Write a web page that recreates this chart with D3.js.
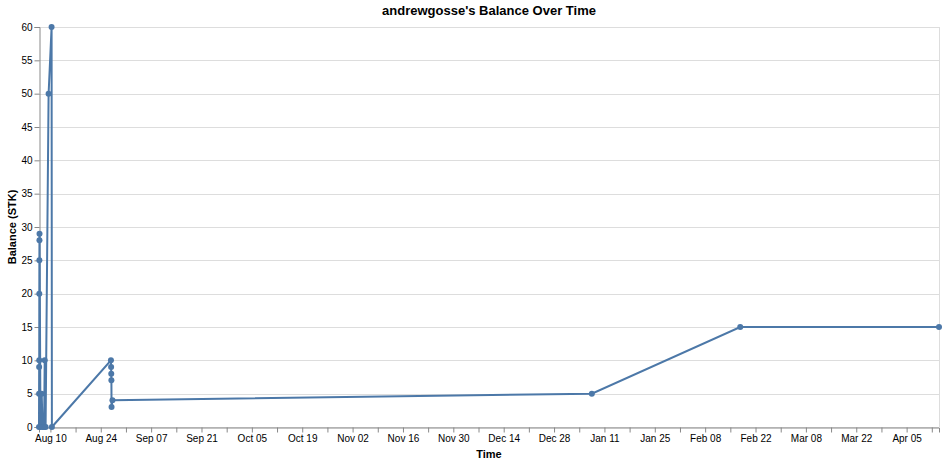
<!DOCTYPE html>
<html>
<head>
<meta charset="utf-8">
<script src="https://cdn.jsdelivr.net/npm/d3@7"></script>
<style>
  body { margin: 0; background: #fff; }
  text { font-family: "Liberation Sans", Arial, sans-serif; }
</style>
</head>
<body>
<div id="chart"></div>
<script>
// balance records
const times = [
  "2025-08-06 20:00", "2025-08-06 20:30", "2025-08-06 21:00", "2025-08-06 21:30",
  "2025-08-06 22:00", "2025-08-06 22:30", "2025-08-06 23:00", "2025-08-06 23:30",
  "2025-08-07 06:00", "2025-08-07 14:00", "2025-08-07 20:00", "2025-08-08 06:00",
  "2025-08-08 10:00", "2025-08-08 16:00", "2025-08-09 12:00", "2025-08-10 08:00",
  "2025-08-10 10:00", "2025-08-26 20:00", "2025-08-26 21:00", "2025-08-26 22:00",
  "2025-08-26 23:00", "2025-08-27 00:00", "2025-08-27 06:00", "2026-01-07 12:00",
  "2026-02-17 18:00", "2026-04-14 00:00"
];
const balances = [
  0, 5, 9, 10,
  20, 25, 28, 29,
  0, 5, 0, 0,
  10, 0, 50, 60,
  0, 10, 9, 8,
  7, 3, 4, 5,
  15, 15
];
const yTicks = [0, 5, 10, 15, 20, 25, 30, 35, 40, 45, 50, 55, 60];

const chartTitle = "andrewgosse's Balance Over Time";
const xTitle = "Time";
const yTitle = "Balance (STK)";

const W = 947, H = 464;
const margin = { left: 39, top: 27 };
const width = 900, height = 400;

const parse = d3.timeParse("%Y-%m-%d %H:%M");
const data = times.map((t, i) => ({ date: parse(t), value: balances[i] }));

const svg = d3.select("#chart").append("svg")
    .attr("width", W)
    .attr("height", H);

const g = svg.append("g")
    .attr("transform", `translate(${margin.left},${margin.top})`);

const x = d3.scaleTime()
    .domain(d3.extent(data, d => d.date))
    .range([0, width]);

const y = d3.scaleLinear()
    .domain([0, 60])
    .range([height, 0]);

// horizontal grid
g.append("g")
    .selectAll("line")
    .data(yTicks)
    .enter()
    .append("line")
    .attr("x1", 0)
    .attr("x2", width)
    .attr("y1", d => Math.round(y(d)) + 0.5)
    .attr("y2", d => Math.round(y(d)) + 0.5)
    .attr("stroke", "#ddd");

// right edge of the view
g.append("line")
    .attr("x1", width + 0.5).attr("x2", width + 0.5)
    .attr("y1", 0).attr("y2", height)
    .attr("stroke", "#ddd");

// x axis: weekly ticks, every other one labelled
const weekTicks = x.ticks(d3.timeWeek.every(1));
const fmt = d3.timeFormat("%b %d");
const xAxis = g.append("g")
    .attr("transform", `translate(0,${height + 0.5})`)
    .call(d3.axisBottom(x)
        .tickValues(weekTicks)
        .tickSize(5)
        .tickPadding(2)
        .tickFormat((d, i) => i % 2 === 0 ? fmt(d) : ""));
xAxis.select(".domain").attr("stroke", "#888");
xAxis.selectAll(".tick line").attr("stroke", "#888");
xAxis.selectAll(".tick text")
    .attr("fill", "#000")
    .style("font-size", "10px")
    .style("font-family", "'Liberation Sans', Arial, sans-serif");

// y axis
const yAxis = g.append("g")
    .attr("transform", "translate(0.5,0)")
    .call(d3.axisLeft(y)
        .tickValues(yTicks)
        .tickSize(5)
        .tickPadding(2));
yAxis.select(".domain").attr("stroke", "#888");
yAxis.selectAll(".tick line").attr("stroke", "#888");
yAxis.selectAll(".tick text")
    .attr("fill", "#000")
    .style("font-size", "10px")
    .style("font-family", "'Liberation Sans', Arial, sans-serif");

// line
const line = d3.line()
    .x(d => x(d.date))
    .y(d => y(d.value));

g.append("path")
    .datum(data)
    .attr("fill", "none")
    .attr("stroke", "#4c78a8")
    .attr("stroke-width", 2)
    .attr("d", line);

// points
g.append("g")
    .selectAll("circle")
    .data(data)
    .enter()
    .append("circle")
    .attr("cx", d => x(d.date))
    .attr("cy", d => y(d.value))
    .attr("r", 3)
    .attr("fill", "#4c78a8");

// titles
svg.append("text")
    .attr("x", margin.left + width / 2)
    .attr("y", 15)
    .attr("text-anchor", "middle")
    .style("font-size", "13px")
    .style("font-weight", "bold")
    .text(chartTitle);

svg.append("text")
    .attr("x", margin.left + width / 2)
    .attr("y", 458)
    .attr("text-anchor", "middle")
    .style("font-size", "11px")
    .style("font-weight", "bold")
    .text(xTitle);

svg.append("text")
    .attr("transform", `translate(16,${margin.top + height / 2}) rotate(-90)`)
    .attr("text-anchor", "middle")
    .style("font-size", "11px")
    .style("font-weight", "bold")
    .text(yTitle);
</script>
</body>
</html>
